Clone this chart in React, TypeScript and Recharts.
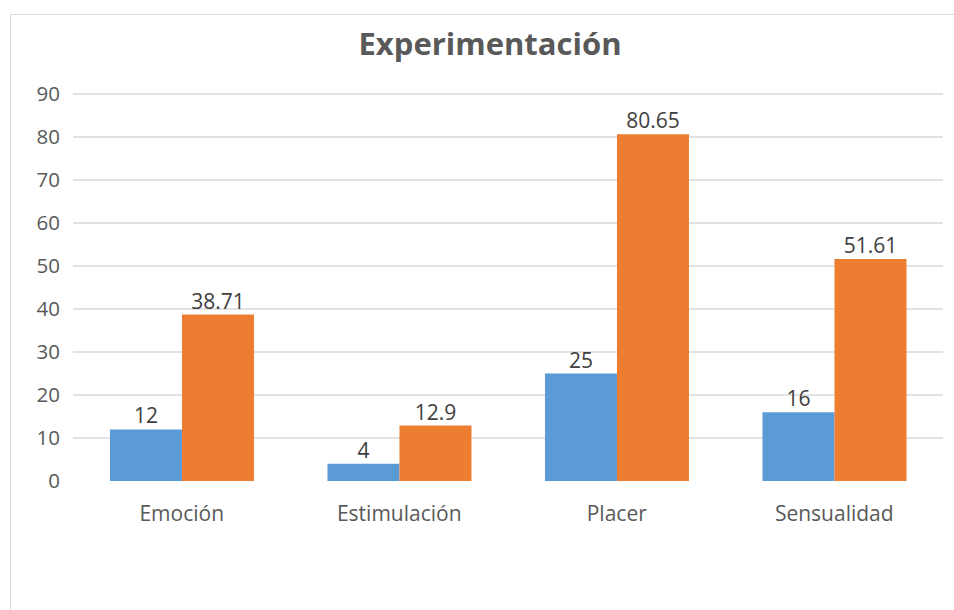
import React from "react";
import { BarChart, Bar, XAxis, YAxis, CartesianGrid, LabelList } from "recharts";

const categories = ["Emoción", "Estimulación", "Placer", "Sensualidad"];
const seriesA = [12, 4, 25, 16];
const seriesB = [38.71, 12.9, 80.65, 51.61];
const yTicks = [0, 10, 20, 30, 40, 50, 60, 70, 80, 90];
const gridValues = [10, 20, 30, 40, 50, 60, 70, 80, 90];

const data = categories.map((c, i) => ({ name: c, a: seriesA[i], b: seriesB[i] }));

const font = "'Open Sans', 'Noto Sans', sans-serif";

export default function App() {
  return (
    <div style={{ position: "absolute", left: 0, top: 0, width: 954, height: 610, background: "#fff", fontFamily: font }}>
      <div style={{ position: "absolute", left: 10, top: 14, width: 944, height: 596, borderTop: "1px solid #d9d9d9", borderLeft: "1px solid #d9d9d9" }} />
      <div style={{ position: "absolute", left: 0, top: 22, width: 980, textAlign: "center", fontSize: 31, fontWeight: 700, color: "#595959" }}>
        Experimentación
      </div>
      <div style={{ position: "absolute", left: 0, top: 0 }}>
        <BarChart width={954} height={610} data={data} margin={{ top: 94, right: 11, bottom: 89, left: 0 }} barCategoryGap="17%" barGap={0}>
          <CartesianGrid vertical={false} stroke="#d9d9d9" strokeWidth={1.5} horizontalValues={gridValues} />
          <XAxis dataKey="name" axisLine={false} tickLine={false} height={40} tickMargin={19} tick={{ fill: "#595959", fontSize: 21, fontFamily: font }} interval={0} />
          <YAxis domain={[0, 90]} ticks={yTicks} width={73} axisLine={false} tickLine={false} tickMargin={7} tick={{ fill: "#595959", fontSize: 20.5, fontFamily: font }} interval={0} />
          <Bar dataKey="a" name="Serie 1" fill="#5B9BD5" isAnimationActive={false}>
            <LabelList dataKey="a" position="top" offset={6} fill="#404040" fontSize={21} fontFamily={font} />
          </Bar>
          <Bar dataKey="b" name="Serie 2" fill="#ED7D31" isAnimationActive={false}>
            <LabelList dataKey="b" position="top" offset={6} fill="#404040" fontSize={21} fontFamily={font} />
          </Bar>
        </BarChart>
      </div>
    </div>
  );
}
